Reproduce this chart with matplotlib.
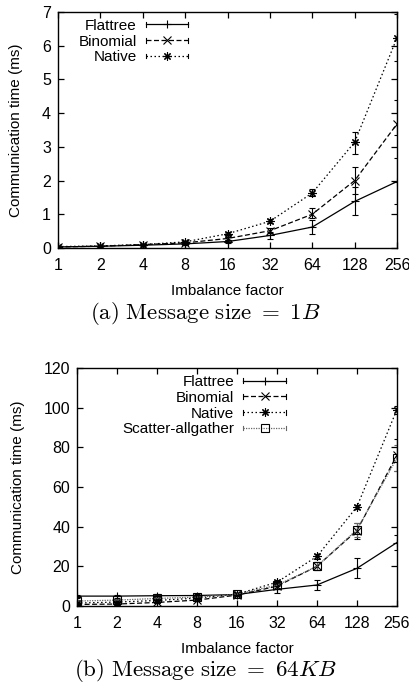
"""Communication time vs imbalance factor, two message sizes (gnuplot-style)."""

import matplotlib
matplotlib.use("Agg")
import matplotlib.pyplot as plt
from matplotlib.lines import Line2D
from matplotlib.legend_handler import HandlerLine2D
from matplotlib.ticker import FixedLocator, NullLocator

plt.rcParams['font.family'] = ['Liberation Sans', 'DejaVu Sans']
plt.rcParams['mathtext.fontset'] = 'cm'

factors = [1, 2, 4, 8, 16, 32, 64, 128, 256]

# (a) message size 1B
flat_1b = [0.03, 0.05, 0.08, 0.12, 0.19, 0.37, 0.62, 1.38, 1.97]
flat_1b_lo = [0.01, 0.01, 0.01, 0.02, 0.05, 0.10, 0.20, 0.41, 0.67]
flat_1b_hi = [0.01, 0.01, 0.01, 0.02, 0.05, 0.10, 0.20, 0.42, 0.70]
bino_1b = [0.03, 0.05, 0.10, 0.15, 0.28, 0.51, 1.00, 2.00, 3.68]
bino_1b_lo = [0.01, 0.01, 0.01, 0.02, 0.04, 0.08, 0.12, 0.40, 0.33]
bino_1b_hi = [0.01, 0.01, 0.01, 0.02, 0.04, 0.09, 0.18, 0.40, 0.71]
nat_1b = [0.04, 0.06, 0.10, 0.18, 0.42, 0.79, 1.63, 3.14, 6.24]
nat_1b_lo = [0.01, 0.01, 0.01, 0.02, 0.04, 0.05, 0.10, 0.34, 0.69]
nat_1b_hi = [0.01, 0.01, 0.01, 0.02, 0.04, 0.06, 0.12, 0.31, 0.69]

# (b) message size 64KB
flat_64k = [5.0, 5.0, 5.2, 5.3, 5.8, 8.4, 10.6, 19.0, 32.0]
flat_64k_err = [0.8, 0.8, 0.8, 0.8, 0.8, 1.6, 2.6, 5.0, 4.0]
bino_64k = [0.8, 1.0, 1.8, 3.0, 5.5, 10.0, 20.0, 38.0, 76.0]
bino_64k_err = [0.3, 0.3, 0.4, 0.5, 0.6, 1.2, 2.0, 4.0, 8.0]
nat_64k = [1.5, 2.0, 2.8, 4.0, 6.0, 12.0, 25.0, 50.0, 99.0]
nat_64k_err = [0.3, 0.3, 0.4, 0.5, 0.6, 1.0, 1.2, 1.0, 2.0]
scat_64k = [2.5, 3.0, 3.8, 4.5, 6.0, 10.5, 20.0, 38.5, 74.5]
scat_64k_err = [0.5, 0.5, 0.5, 0.6, 0.6, 1.2, 2.0, 3.5, 6.5]


class CappedLine(HandlerLine2D):
    """gnuplot-like key sample: line with marker and a small cap at each end."""

    def create_artists(self, legend, orig_handle, xdescent, ydescent,
                       width, height, fontsize, trans):
        artists = super().create_artists(legend, orig_handle, xdescent,
                                         ydescent, width, height, fontsize,
                                         trans)
        ymid = height / 2 - ydescent
        for x in (-xdescent, width - xdescent):
            cap = Line2D([x, x], [ymid - 0.22 * height, ymid + 0.22 * height],
                         color=orig_handle.get_color(), lw=0.8,
                         transform=trans)
            artists.append(cap)
        return artists


fig = plt.figure(figsize=(4.1, 6.83), dpi=100)
ax_a = fig.add_axes([0.1415, 0.637, 0.827, 0.3455])
ax_b = fig.add_axes([0.188, 0.1127, 0.780, 0.3485])

style = dict(color='black', lw=0.9, elinewidth=0.8, capsize=2, capthick=0.8,
             ms=6, mew=0.8)
star = (8, 2, 0)

ax_a.errorbar(factors, flat_1b, yerr=[flat_1b_lo, flat_1b_hi], marker='+',
              ls='-', label='Flattree', **style)
ax_a.errorbar(factors, bino_1b, yerr=[bino_1b_lo, bino_1b_hi], marker='x',
              ls=(0, (4, 2)), label='Binomial', **style)
ax_a.errorbar(factors, nat_1b, yerr=[nat_1b_lo, nat_1b_hi], marker=star,
              ls=(0, (1.2, 2)), label='Native', **style)

ax_b.errorbar(factors, flat_64k, yerr=flat_64k_err, marker='+',
              ls='-', label='Flattree', **style)
ax_b.errorbar(factors, bino_64k, yerr=bino_64k_err, marker='x',
              ls=(0, (4, 2)), label='Binomial', **style)
ax_b.errorbar(factors, nat_64k, yerr=nat_64k_err, marker=star,
              ls=(0, (1.2, 2)), label='Native', **style)
style_s = dict(style, color='0.4', ms=5.5)
ax_b.errorbar(factors, scat_64k, yerr=scat_64k_err, marker='s', mfc='none',
              mec='black', ls=(0, (1, 1)), label='Scatter-allgather', **style_s)

for ax, ymax, step, ypad in [(ax_a, 7, 1, 14), (ax_b, 120, 20, 13)]:
    ax.set_xscale('log', base=2)
    ax.set_xlim(1, 256)
    ax.xaxis.set_major_locator(FixedLocator(factors))
    ax.xaxis.set_minor_locator(NullLocator())
    ax.set_xticklabels([str(f) for f in factors])
    ax.set_ylim(0, ymax)
    ax.set_yticks(range(0, ymax + 1, step))
    ax.tick_params(direction='in', top=True, right=True, length=4, width=0.9,
                   labelsize=11.5)
    ax.tick_params(axis='x', pad=7)
    ax.tick_params(axis='y', pad=5)
    for s in ax.spines.values():
        s.set_linewidth(1.0)
    ax.set_xlabel('Imbalance factor', fontsize=11, labelpad=8)
    ax.set_ylabel('Communication time (ms)', fontsize=11, labelpad=ypad)

leg_kw = dict(loc='upper right', frameon=False, markerfirst=False, fontsize=11,
              handlelength=2.8, labelspacing=0.12, handletextpad=0.6,
              borderpad=0.45, borderaxespad=0.0)
for ax, anchor in [(ax_a, 0.405), (ax_b, 0.675)]:
    handles, labels = ax.get_legend_handles_labels()
    lines = [h[0] for h in handles]
    ax.legend(lines, labels, bbox_to_anchor=(anchor, 1.0),
              handler_map={ln: CappedLine(numpoints=1) for ln in lines},
              **leg_kw)

fig.text(0.5, 0.5415, r'$\mathrm{(a)\ Message\ size}\ =\ 1B$', ha='center',
         va='center', fontsize=16.5)
fig.text(0.5, 0.0185, r'$\mathrm{(b)\ Message\ size}\ =\ 64KB$', ha='center',
         va='center', fontsize=16.5)

fig.savefig('out.png', dpi=100)
